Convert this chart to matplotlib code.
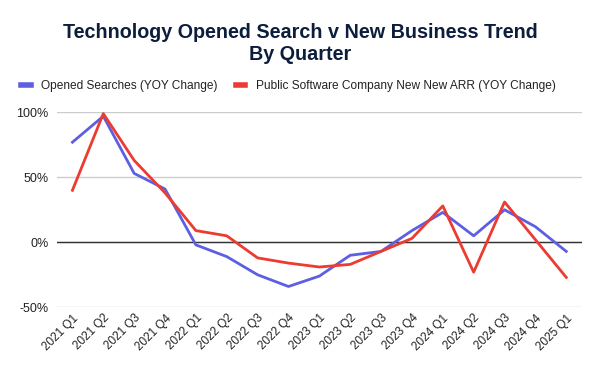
import matplotlib.pyplot as plt
from matplotlib.ticker import FuncFormatter

# === DADOS ===
trimestres = ['2021 Q1', '2021 Q2', '2021 Q3', '2021 Q4', '2022 Q1', '2022 Q2', '2022 Q3', '2022 Q4',
              '2023 Q1', '2023 Q2', '2023 Q3', '2023 Q4', '2024 Q1', '2024 Q2', '2024 Q3', '2024 Q4',
              '2025 Q1']
buscas_abertas = [77, 97, 53, 41, -2, -11, -25, -34, -26, -10, -7, 9, 23, 5, 25, 12, -7]
new_new_arr = [40, 99, 63, 38, 9, 5, -12, -16, -19, -17, -7, 3, 28, -23, 31, 2, -27]

AZUL = '#5d5fe3'
VERMELHO = '#ec3b31'

plt.rcParams['font.family'] = ['Liberation Sans', 'DejaVu Sans']

fig = plt.figure(figsize=(6, 3.71), dpi=100)
ax = fig.add_axes([0.095, 0.1717, 0.8745, 0.5256])

x = range(len(trimestres))
l1, = ax.plot(x, buscas_abertas, color=AZUL, linewidth=2, label='Opened Searches (YOY Change)')
l2, = ax.plot(x, new_new_arr, color=VERMELHO, linewidth=2, label='Public Software Company New New ARR (YOY Change)')

ax.set_xlim(-0.5, len(trimestres) - 0.5)
ax.set_ylim(-50, 100)
ax.set_yticks([-50, 0, 50, 100])
ax.yaxis.set_major_formatter(FuncFormatter(lambda v, p: f'{v:.0f}%'))
ax.grid(axis='y', color='#cccccc', linewidth=1)
ax.axhline(0, color='#333333', linewidth=1, zorder=1)
ax.set_axisbelow(True)
for s in ax.spines.values():
    s.set_visible(False)
ax.tick_params(axis='both', length=0, labelsize=9, colors='#222222')
ax.tick_params(axis='y', pad=6)
ax.set_xticks(list(x))
ax.set_xticklabels(trimestres, rotation=45, ha='right', rotation_mode='anchor', fontsize=8.5)

fig.text(0.5, 0.884, 'Technology Opened Search v New Business Trend\nBy Quarter',
         ha='center', va='center', fontsize=14.2, fontweight='bold', color='#0c1e3c', linespacing=1.2)

fig.legend(handles=[l1, l2], loc='center left', bbox_to_anchor=(0.017, 0.768), ncol=2, frameon=False,
           fontsize=8.6, handlelength=0.8, handletextpad=0.9, columnspacing=1.5, labelcolor='#222222')
for h in fig.legends[0].legend_handles:
    h.set_linewidth(4)

plt.savefig('out.png')
